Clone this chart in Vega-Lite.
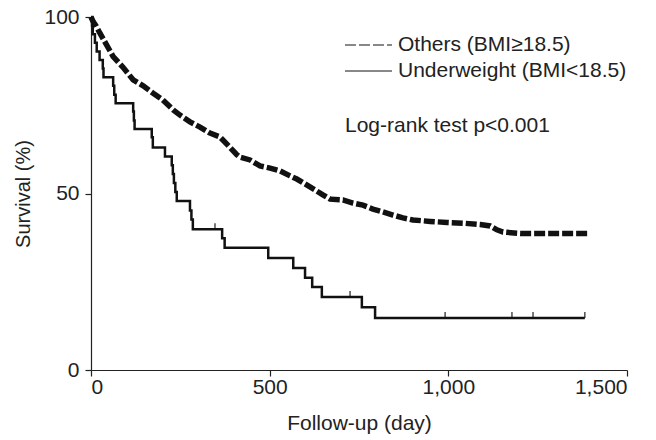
{
  "$schema": "https://vega.github.io/schema/vega-lite/v6.json",
  "width": 536,
  "height": 353,
  "autosize": {"type": "none"},
  "padding": {"left": 91, "top": 17, "right": 29, "bottom": 70},
  "background": "white",
  "config": {
    "view": {"stroke": null},
    "font": "Liberation Sans",
    "axis": {
      "grid": false,
      "domainColor": "#222",
      "tickColor": "#222",
      "labelColor": "#222",
      "titleColor": "#222",
      "labelFont": "Liberation Sans",
      "titleFont": "Liberation Sans",
      "labelFontSize": 21,
      "titleFontSize": 21,
      "titleFontWeight": "normal",
      "tickSize": 6,
      "domainWidth": 1.2,
      "tickWidth": 1.2
    }
  },
  "datasets": {
    "others": [
      {"group": "Others (BMI≥18.5)", "day": 0, "surv": 100},
      {"group": "Others (BMI≥18.5)", "day": 6, "surv": 98.7},
      {"group": "Others (BMI≥18.5)", "day": 14, "surv": 97.5},
      {"group": "Others (BMI≥18.5)", "day": 25, "surv": 95.4},
      {"group": "Others (BMI≥18.5)", "day": 42, "surv": 92.4},
      {"group": "Others (BMI≥18.5)", "day": 62, "surv": 88.8},
      {"group": "Others (BMI≥18.5)", "day": 89, "surv": 85.8},
      {"group": "Others (BMI≥18.5)", "day": 118, "surv": 82.2},
      {"group": "Others (BMI≥18.5)", "day": 146, "surv": 80.5},
      {"group": "Others (BMI≥18.5)", "day": 174, "surv": 78.4},
      {"group": "Others (BMI≥18.5)", "day": 201, "surv": 76.5},
      {"group": "Others (BMI≥18.5)", "day": 230, "surv": 73.7},
      {"group": "Others (BMI≥18.5)", "day": 249, "surv": 72.2},
      {"group": "Others (BMI≥18.5)", "day": 277, "surv": 70.3},
      {"group": "Others (BMI≥18.5)", "day": 305, "surv": 68.8},
      {"group": "Others (BMI≥18.5)", "day": 333, "surv": 67.1},
      {"group": "Others (BMI≥18.5)", "day": 361, "surv": 66.0},
      {"group": "Others (BMI≥18.5)", "day": 383, "surv": 63.7},
      {"group": "Others (BMI≥18.5)", "day": 408, "surv": 61.0},
      {"group": "Others (BMI≥18.5)", "day": 417, "surv": 60.3},
      {"group": "Others (BMI≥18.5)", "day": 445, "surv": 59.5},
      {"group": "Others (BMI≥18.5)", "day": 473, "surv": 57.8},
      {"group": "Others (BMI≥18.5)", "day": 501, "surv": 57.2},
      {"group": "Others (BMI≥18.5)", "day": 529, "surv": 56.4},
      {"group": "Others (BMI≥18.5)", "day": 557, "surv": 55.0},
      {"group": "Others (BMI≥18.5)", "day": 576, "surv": 54.1},
      {"group": "Others (BMI≥18.5)", "day": 599, "surv": 52.7},
      {"group": "Others (BMI≥18.5)", "day": 627, "surv": 51.0},
      {"group": "Others (BMI≥18.5)", "day": 649, "surv": 49.6},
      {"group": "Others (BMI≥18.5)", "day": 669, "surv": 48.4},
      {"group": "Others (BMI≥18.5)", "day": 705, "surv": 48.2},
      {"group": "Others (BMI≥18.5)", "day": 733, "surv": 47.3},
      {"group": "Others (BMI≥18.5)", "day": 761, "surv": 46.7},
      {"group": "Others (BMI≥18.5)", "day": 789, "surv": 45.6},
      {"group": "Others (BMI≥18.5)", "day": 817, "surv": 44.8},
      {"group": "Others (BMI≥18.5)", "day": 845, "surv": 43.9},
      {"group": "Others (BMI≥18.5)", "day": 873, "surv": 43.1},
      {"group": "Others (BMI≥18.5)", "day": 901, "surv": 42.5},
      {"group": "Others (BMI≥18.5)", "day": 949, "surv": 42.1},
      {"group": "Others (BMI≥18.5)", "day": 996, "surv": 41.8},
      {"group": "Others (BMI≥18.5)", "day": 1041, "surv": 41.6},
      {"group": "Others (BMI≥18.5)", "day": 1089, "surv": 41.2},
      {"group": "Others (BMI≥18.5)", "day": 1117, "surv": 40.8},
      {"group": "Others (BMI≥18.5)", "day": 1136, "surv": 39.7},
      {"group": "Others (BMI≥18.5)", "day": 1153, "surv": 39.1},
      {"group": "Others (BMI≥18.5)", "day": 1201, "surv": 38.7},
      {"group": "Others (BMI≥18.5)", "day": 1390, "surv": 38.7}
    ],
    "under": [
      {"group": "Underweight (BMI<18.5)", "day": 0, "surv": 100},
      {"group": "Underweight (BMI<18.5)", "day": 3, "surv": 97.6},
      {"group": "Underweight (BMI<18.5)", "day": 5, "surv": 95.1},
      {"group": "Underweight (BMI<18.5)", "day": 11, "surv": 92.7},
      {"group": "Underweight (BMI<18.5)", "day": 16, "surv": 90.2},
      {"group": "Underweight (BMI<18.5)", "day": 24, "surv": 87.8},
      {"group": "Underweight (BMI<18.5)", "day": 33, "surv": 85.4},
      {"group": "Underweight (BMI<18.5)", "day": 35, "surv": 82.9},
      {"group": "Underweight (BMI<18.5)", "day": 62, "surv": 80.5},
      {"group": "Underweight (BMI<18.5)", "day": 65, "surv": 78.0},
      {"group": "Underweight (BMI<18.5)", "day": 69, "surv": 75.6},
      {"group": "Underweight (BMI<18.5)", "day": 118, "surv": 73.2},
      {"group": "Underweight (BMI<18.5)", "day": 120, "surv": 70.7},
      {"group": "Underweight (BMI<18.5)", "day": 122, "surv": 68.3},
      {"group": "Underweight (BMI<18.5)", "day": 170, "surv": 65.9},
      {"group": "Underweight (BMI<18.5)", "day": 173, "surv": 63.0},
      {"group": "Underweight (BMI<18.5)", "day": 207, "surv": 60.5},
      {"group": "Underweight (BMI<18.5)", "day": 226, "surv": 58.0},
      {"group": "Underweight (BMI<18.5)", "day": 229, "surv": 55.5},
      {"group": "Underweight (BMI<18.5)", "day": 232, "surv": 53.0},
      {"group": "Underweight (BMI<18.5)", "day": 236, "surv": 50.4},
      {"group": "Underweight (BMI<18.5)", "day": 240, "surv": 47.9},
      {"group": "Underweight (BMI<18.5)", "day": 277, "surv": 45.2},
      {"group": "Underweight (BMI<18.5)", "day": 281, "surv": 42.6},
      {"group": "Underweight (BMI<18.5)", "day": 285, "surv": 39.9},
      {"group": "Underweight (BMI<18.5)", "day": 367, "surv": 37.3},
      {"group": "Underweight (BMI<18.5)", "day": 374, "surv": 34.6},
      {"group": "Underweight (BMI<18.5)", "day": 496, "surv": 31.7},
      {"group": "Underweight (BMI<18.5)", "day": 566, "surv": 28.9},
      {"group": "Underweight (BMI<18.5)", "day": 599, "surv": 26.1},
      {"group": "Underweight (BMI<18.5)", "day": 619, "surv": 23.5},
      {"group": "Underweight (BMI<18.5)", "day": 646, "surv": 20.7},
      {"group": "Underweight (BMI<18.5)", "day": 758, "surv": 17.8},
      {"group": "Underweight (BMI<18.5)", "day": 795, "surv": 14.7},
      {"group": "Underweight (BMI<18.5)", "day": 1382, "surv": 14.7}
    ],
    "cens": [
      {"group": "Underweight (BMI<18.5)", "day": 347, "surv": 39.9},
      {"group": "Underweight (BMI<18.5)", "day": 725, "surv": 20.7},
      {"group": "Underweight (BMI<18.5)", "day": 991, "surv": 14.7},
      {"group": "Underweight (BMI<18.5)", "day": 1178, "surv": 14.7},
      {"group": "Underweight (BMI<18.5)", "day": 1237, "surv": 14.7},
      {"group": "Underweight (BMI<18.5)", "day": 1382, "surv": 14.7}
    ]
  },
  "encoding": {
    "x": {
      "field": "day",
      "type": "quantitative",
      "scale": {"domain": [0, 1500], "nice": false},
      "axis": {"values": [0, 500, 1000, 1500], "format": ",.0f", "title": "Follow-up (day)", "labelPadding": 0, "titlePadding": 15}
    },
    "y": {
      "field": "surv",
      "type": "quantitative",
      "scale": {"domain": [0, 100], "nice": false},
      "axis": {"values": [0, 50, 100], "title": "Survival (%)", "labelPadding": 6, "titlePadding": 10, "titleFontSize": 20}
    }
  },
  "layer": [
    {
      "data": {"name": "others"},
      "mark": {"type": "line", "interpolate": "linear", "color": "#111", "strokeWidth": 5.5},
      "encoding": {
        "strokeDash": {
          "field": "group",
          "type": "nominal",
          "scale": {"domain": ["Others (BMI≥18.5)", "Underweight (BMI<18.5)"], "range": [[11, 3], [1, 0]]},
          "legend": {
            "orient": "none",
            "legendX": 254,
            "legendY": 17.5,
            "title": "Log-rank test p<0.001",
            "titleOrient": "bottom",
            "titleAnchor": "start",
            "titlePadding": 33,
            "titleLimit": 500,
            "titleFont": "Liberation Sans",
            "titleFontSize": 21,
            "titleFontWeight": "normal",
            "titleColor": "#222",
            "labelFont": "Liberation Sans",
            "labelFontSize": 21,
            "labelColor": "#222",
            "labelLimit": 500,
            "symbolType": "M-1.788,0H6.212",
            "symbolSize": 138,
            "symbolStrokeWidth": 1,
            "symbolStrokeColor": "#222",
            "labelOffset": 32,
            "rowPadding": 4
          }
        }
      }
    },
    {
      "data": {"name": "under"},
      "mark": {"type": "line", "interpolate": "step-after", "color": "#111", "strokeWidth": 2.5},
      "encoding": {
        "strokeDash": {"field": "group", "type": "nominal"}
      }
    },
    {
      "data": {"name": "cens"},
      "mark": {"type": "tick", "orient": "vertical", "color": "#111", "size": 6, "thickness": 1.6, "yOffset": -3}
    }
  ]
}
